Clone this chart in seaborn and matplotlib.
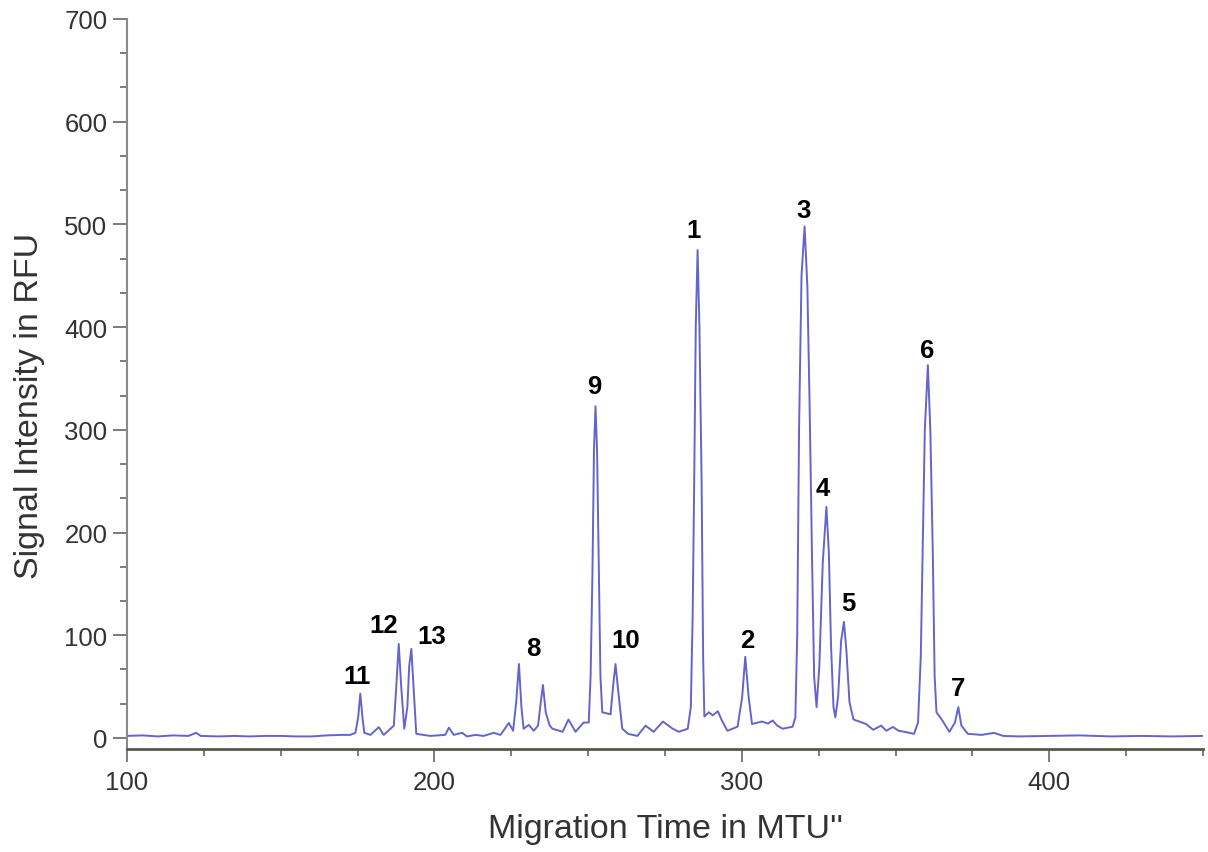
import numpy as np
import pandas as pd
import matplotlib
matplotlib.use("Agg")
import matplotlib.pyplot as plt
from matplotlib.ticker import MultipleLocator
import seaborn as sns

# ---- trace (migration time, RFU) ----
mtu = [100, 105, 110, 115, 120, 122.5, 124, 130, 135, 140, 145, 150, 155, 160, 165, 170,
       172.6, 174.3, 175.2, 175.9, 176.6, 177.2, 179.2, 181.9, 183.5, 185.7, 186.8, 187.6,
       188.4, 189.2, 190.2, 191.2, 191.8, 192.5, 193.2, 194.1, 198.7, 203.5, 204.7, 206.3,
       209, 210.6, 213.4, 216, 219.3, 221.5, 224.2, 225.6, 226.6, 227.5, 228.3, 229, 230.7,
       232.3, 233.7, 234.6, 235.3, 236.2, 237.5, 238.4, 241.7, 243.6, 245.9, 248.5, 250.2,
       250.8, 251.4, 251.9, 252.4, 252.9, 253.5, 254.0, 254.6, 257.3, 258.1, 258.9, 259.8,
       261.1, 263, 266, 268.7, 271.3, 274.3, 277.5, 279.5, 282.4, 283.4, 284.0, 284.5, 285.0,
       285.6, 286.2, 286.9, 287.4, 287.8, 289.3, 290.5, 292.2, 293.5, 295.3, 298.6, 300.1,
       301.1, 302.2, 303.3, 306.5, 308.5, 310, 311.5, 313.3, 316.5, 317.4, 318.0, 318.6,
       319.4, 320.4, 321.3, 322.0, 322.8, 323.5, 324.3, 325.2, 326.3, 327.5, 328.3, 329.0,
       329.8, 330.4, 331.3, 332.3, 333.2, 334.0, 335.0, 336.3, 337.7, 340.4, 342.7, 345.3,
       347, 349.1, 351, 352.9, 356, 357.3, 358.2, 358.8, 359.5, 360.5, 361.3, 362.1, 362.7,
       363.3, 365, 367.5, 369.3, 370.4, 371.4, 373.5, 378, 382, 385, 390, 400, 410, 420,
       430, 440, 450]
rfu = [2, 2.5, 1.5, 2.5, 2, 5, 2, 1.5, 2, 1.5, 2, 2, 1.5, 1.5, 2.5, 3,
       3, 5, 20, 43, 20, 5, 3, 10.5, 3, 9, 12, 50,
       91.5, 50, 9, 30, 70, 86.7, 50, 4, 2, 3, 10, 3,
       5, 1.5, 3, 2, 5, 3, 14.6, 7, 35, 72, 30, 9, 12.7,
       7, 12, 35, 51.6, 25, 12, 9, 6, 18, 6, 15, 15,
       60, 160, 280, 323, 280, 160, 60, 25, 23, 50, 72, 45,
       9, 4, 2, 12, 6, 16, 9, 6, 9, 30, 120, 250, 400,
       475, 400, 250, 80, 21, 25, 22, 26, 17, 7, 11, 40,
       79, 40, 13.6, 16, 14, 17, 12, 9, 11, 20, 100, 300,
       450, 498, 440, 330, 180, 60, 30, 70, 170, 225, 180, 90,
       30, 20, 40, 95, 113, 85, 35, 18, 16.5, 13.6, 8, 12,
       7, 10.7, 7, 6, 4, 15, 80, 180, 300, 363, 300, 180, 60,
       25, 18, 6, 15, 30, 12, 4, 3, 5, 2, 1.5, 2, 2.5, 1.5,
       2, 1.5, 2]

# ---- peak labels (text, anchor position) ----
peak_names = ["11", "12", "13", "8", "9", "10", "1", "2", "3", "4", "5", "6", "7"]
label_x = [174.9, 183.4, 199.0, 232.2, 252.1, 262.2, 284.4, 301.6, 319.9, 326.4, 334.5, 360.3, 370.4]
label_y = [60.4, 110.0, 99.0, 87.6, 342.7, 95.4, 494.6, 95.4, 514.0, 243.4, 131.4, 377.8, 48.7]

x_ticks = [100, 200, 300, 400]
y_ticks = [0, 100, 200, 300, 400, 500, 600, 700]

df = pd.DataFrame({"Migration Time": mtu, "Signal": rfu})

sns.set_theme(style="ticks")
plt.rcParams["font.family"] = ["Liberation Sans", "DejaVu Sans"]

fig = plt.figure(figsize=(12.08, 8.53), dpi=100)
ax = fig.add_axes([0.1051, 0.1208, 0.8908, 0.8558])

sns.lineplot(data=df, x="Migration Time", y="Signal", ax=ax, estimator=None,
             sort=False, color="#6464cc", linewidth=1.4)

for name, lx, ly in zip(peak_names, label_x, label_y):
    ax.text(lx, ly, name, ha="center", va="center", fontsize=18.5,
            fontweight="bold", color="black")

ax.set_xlim(100, 450)
ax.set_ylim(-10.7, 700)
ax.set_xticks(x_ticks)
ax.set_yticks(y_ticks)
ax.xaxis.set_minor_locator(MultipleLocator(25))
ax.yaxis.set_minor_locator(MultipleLocator(100 / 3))

for s in ["top", "right"]:
    ax.spines[s].set_visible(False)
ax.spines["left"].set_color("#8a8a8a")
ax.spines["left"].set_linewidth(1.5)
ax.spines["bottom"].set_color("#55594a")
ax.spines["bottom"].set_linewidth(2.0)

ax.tick_params(axis="both", which="major", labelsize=18.5, labelcolor="#333333",
               color="#666666", direction="out", width=1.2)
ax.tick_params(axis="x", which="major", length=9, pad=6)
ax.tick_params(axis="y", which="major", length=10, pad=4)
ax.tick_params(axis="both", which="minor", color="#666666", direction="out",
               width=1.2, length=5)

ax.set_xlabel("Migration Time in MTU''", fontsize=24.5, color="#333333", labelpad=14)
ax.set_ylabel("Signal Intensity in RFU", fontsize=24.5, color="#333333")
ax.yaxis.set_label_coords(-0.076, 0.471)

fig.savefig("out.png", dpi=100)
